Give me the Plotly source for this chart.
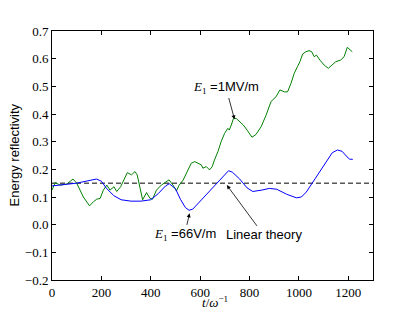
import plotly.graph_objects as go

# Blue: E1 = 66 V/m
t_low = [0, 20, 50, 100, 150, 180, 200, 220, 250, 280, 320, 360, 400, 430, 460, 475, 500, 520, 540,
         555, 570, 600, 640, 670, 700, 715, 730, 760, 790, 813, 850, 880, 910, 950, 990, 1010, 1030,
         1055, 1080, 1110, 1135, 1156, 1175, 1195, 1205, 1218]
r_low = [0.14, 0.143, 0.145, 0.15, 0.16, 0.165, 0.157, 0.132, 0.105, 0.09, 0.085, 0.085, 0.09, 0.112,
         0.14, 0.148, 0.13, 0.092, 0.062, 0.052, 0.056, 0.085, 0.12, 0.15, 0.18, 0.195, 0.19, 0.165,
         0.133, 0.12, 0.125, 0.131, 0.128, 0.11, 0.097, 0.1, 0.118, 0.152, 0.19, 0.23, 0.26, 0.27, 0.265,
         0.245, 0.237, 0.236]

# Green: E1 = 1 MV/m
t_high = [0, 13, 33, 60, 85, 100, 127, 152, 168, 181, 195, 208, 222, 235, 251, 262, 278, 292, 305, 322,
          336, 345, 356, 367, 383, 396, 407, 423, 443, 457, 474, 490, 504, 515, 531, 551, 564, 578, 591,
          605, 611, 625, 638, 649, 658, 672, 685, 699, 712, 718, 726, 735, 746, 759, 775, 793, 810, 826,
          847, 867, 887, 907, 923, 941, 954, 968, 981, 994, 1004, 1015, 1028, 1041, 1052, 1062, 1071,
          1085, 1102, 1119, 1135, 1149, 1169, 1183, 1196, 1206, 1216]
r_high = [0.125, 0.152, 0.143, 0.147, 0.165, 0.15, 0.1, 0.068, 0.083, 0.092, 0.095, 0.125, 0.143, 0.125,
          0.137, 0.12, 0.137, 0.162, 0.188, 0.18, 0.192, 0.18, 0.137, 0.09, 0.116, 0.096, 0.092, 0.125,
          0.143, 0.152, 0.162, 0.143, 0.122, 0.143, 0.161, 0.198, 0.222, 0.228, 0.222, 0.216, 0.204, 0.21,
          0.198, 0.21, 0.234, 0.264, 0.3, 0.33, 0.348, 0.342, 0.36, 0.384, 0.384, 0.372, 0.36, 0.338,
          0.316, 0.326, 0.354, 0.396, 0.445, 0.462, 0.487, 0.48, 0.48, 0.511, 0.547, 0.571, 0.589, 0.617,
          0.625, 0.629, 0.625, 0.607, 0.613, 0.595, 0.577, 0.565, 0.577, 0.589, 0.595, 0.607, 0.641,
          0.634, 0.625]

# Linear theory level
t_lin = [0, 1300]
r_lin = [0.15, 0.15]

x_ticks = [0, 200, 400, 600, 800, 1000, 1200]
y_ticks = [-0.2, -0.1, 0.0, 0.1, 0.2, 0.3, 0.4, 0.5, 0.6, 0.7]

SERIF = "Liberation Serif"
SANS = "Liberation Sans"

fig = go.Figure()
fig.add_trace(go.Scatter(x=t_lin, y=r_lin, mode="lines",
                         line=dict(color="black", width=1, dash="5px,3px"), showlegend=False))
fig.add_trace(go.Scatter(x=t_high, y=r_high, mode="lines",
                         line=dict(color="#008000", width=1), showlegend=False))
fig.add_trace(go.Scatter(x=t_low, y=r_low, mode="lines",
                         line=dict(color="#0000ff", width=1), showlegend=False))

def arrow(text, ax, ay, x, y):
    fig.add_annotation(x=x, y=y, ax=ax, ay=ay, xref="x", yref="y", axref="x", ayref="y",
                       text=text, showarrow=True, arrowhead=2, arrowsize=1, arrowwidth=0.8,
                       arrowcolor="black", font=dict(family=SANS, size=13, color="black"))

E1 = "<span style='font-family:Liberation Serif'><i>E</i><sub>1</sub></span>"
arrow(E1 + " =1MV/m", 705, 0.494, 739, 0.381)
arrow(E1 + " =66V/m", 537, -0.037, 557, 0.041)
arrow("Linear theory", 857, -0.037, 708, 0.143)

# axis titles placed as annotations (paper coordinates)
fig.add_annotation(text="Energy reflectivity", xref="paper", yref="paper", x=-38/321, y=0.5,
                   xanchor="center", yanchor="middle", textangle=-90, showarrow=False,
                   font=dict(family=SANS, size=13, color="black"))
fig.add_annotation(text="<i>t</i>/<i>ω</i><sup>−1</sup>", xref="paper", yref="paper",
                   x=(215 - 52) / 321, y=-22 / 249, xanchor="center", yanchor="middle", showarrow=False,
                   font=dict(family=SERIF, size=13, color="black"))

fig.update_xaxes(range=[0, 1300], tickvals=x_ticks, ticks="inside", ticklen=4, tickcolor="black",
                 showline=True, linecolor="black", linewidth=1, mirror="ticks", showgrid=False,
                 zeroline=False, automargin=False, tickfont=dict(family=SERIF, size=13, color="black"))
fig.update_yaxes(range=[-0.2, 0.7], tickvals=y_ticks, tickformat=".1f", ticks="inside", ticklen=4,
                 tickcolor="black", showline=True, linecolor="black", linewidth=1, mirror="ticks",
                 showgrid=False, zeroline=False, automargin=False,
                 tickfont=dict(family=SERIF, size=13, color="black"))
# page body has an 8px margin, so the figure is 8px smaller and margins shifted accordingly
fig.update_layout(width=407, height=304, margin=dict(l=44, r=42, t=23, b=32),
                  plot_bgcolor="white", paper_bgcolor="white")
fig.write_html("out.html")
